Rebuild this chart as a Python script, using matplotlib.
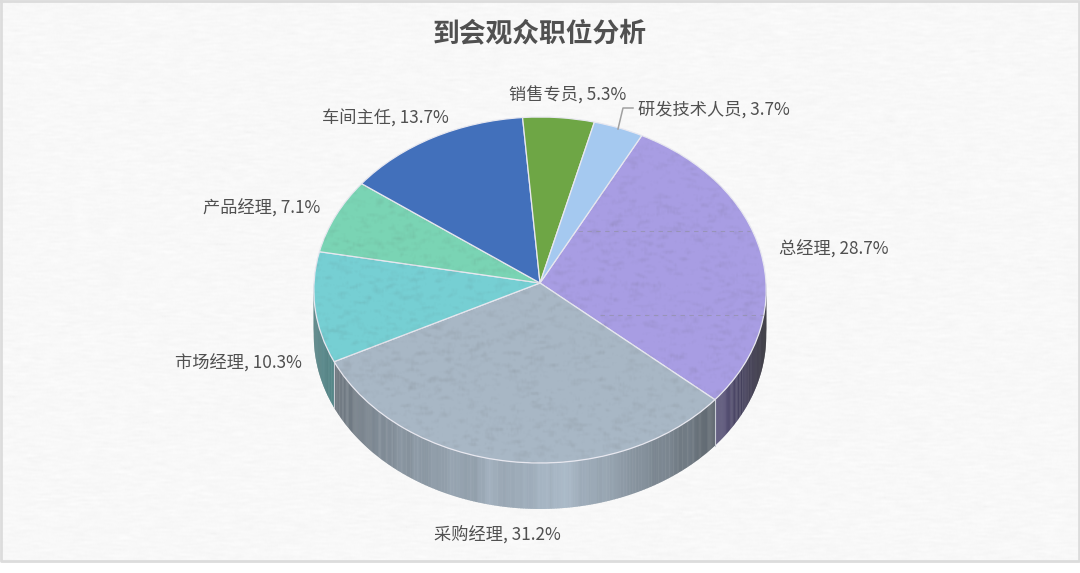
import numpy as np
import matplotlib
matplotlib.use('Agg')
import matplotlib.pyplot as plt
from matplotlib.transforms import Transform

plt.rcParams['font.family'] = ['Noto Sans CJK SC', 'DejaVu Sans']

title = '到会观众职位分析'
categories = ['总经理', '采购经理', '市场经理', '产品经理', '车间主任', '销售专员', '研发技术人员']
shares = [28.7, 31.2, 10.3, 7.1, 13.7, 5.3, 3.7]
colors = ['#a89de3', '#a8b7c5', '#76cfd3', '#7ad4b4', '#4270bb', '#6ea645', '#a5c9f0']
textured = [True, True, True, True, False, False, False]

# pie geometry in pixels, k gives the slight perspective of the tilted disc
cx, cy = 540, 283
rx, ry, k = 226, 172.7, 0.0405
depth = 46
start_clock = 27.8  # degrees clockwise from 12 o'clock


def project(x, y):
    den = 1 + k * y
    return cx + rx * x / den, cy - ry * y / den


class Tilt(Transform):
    input_dims = output_dims = 2

    def transform_non_affine(self, xy):
        xy = np.asarray(xy, dtype=float)
        return np.column_stack(project(xy[:, 0], xy[:, 1]))


def rim(theta):
    # theta in degrees clockwise from the top
    t = np.radians(theta)
    return project(np.sin(t), np.cos(t))


def texture(rng, h, w, blur=9, strength=1.0):
    n = rng.normal(size=(h, w))
    kernel = np.ones(blur) / blur
    n = np.apply_along_axis(lambda r: np.convolve(r, kernel, mode='same'), 1, n)
    n = np.apply_along_axis(lambda r: np.convolve(r, [.25, .5, .25], mode='same'), 0, n)
    return n / n.std() * strength


rng = np.random.default_rng(7)
fig = plt.figure(figsize=(10.8, 5.73), dpi=100, facecolor='white')
ax = fig.add_axes([0, 0, 1, 1])

# paper background
bg = 247.5 + texture(rng, 558, 1076, blur=11, strength=1.0)
bg = np.clip(bg, 0, 255) / 255

wedges, _ = ax.pie(shares, colors=colors, startangle=90 - start_clock, counterclock=False,
                   wedgeprops={'edgecolor': '#e8e8f0', 'linewidth': 0.9, 'zorder': 5})
ax.set_aspect('auto')
ax.axis('off')

ax.imshow(bg, cmap='gray', vmin=0, vmax=1, extent=(2, 1078, 560, 2), zorder=0, aspect='auto')
ax.plot([1, 1079, 1079, 1, 1], [1, 1, 561, 561, 1], color='#dcdcdc', lw=2, zorder=1)

tilt = Tilt() + ax.transData
for w in wedges:
    w.set_transform(tilt)

# side wall, shaded by angle
angle_pts = [90, 100, 130, 175, 215, 245, 275]
shade_pts = [0.10, 0.14, 0.55, 1.0, 0.82, 0.6, 0.5]
edges = start_clock + np.cumsum([0] + shares) * 3.6
streaks = np.convolve(rng.normal(0, 0.025, 700), np.ones(8) / 8 * 2.5, mode='same')
for i, (c, val) in enumerate(zip(colors, shares)):
    a0, a1 = edges[i], edges[i + 1]
    a0_v, a1_v = max(a0, 90), min(a1, 270)
    if a1_v <= a0_v:
        continue
    base = np.array(matplotlib.colors.to_rgb(c))
    steps = np.arange(a0_v, a1_v + 0.4, 0.4)
    for p, q in zip(steps[:-1], steps[1:]):
        f = np.interp((p + q) / 2, angle_pts, shade_pts) * (1 + streaks[int(p / 0.4) % 700])
        xa, ya = rim(np.array([p, q + 0.15]))
        ax.fill([xa[0], xa[1], xa[1], xa[0]], [ya[0], ya[1], ya[1] + depth, ya[0] + depth],
                color=np.clip(base * f, 0, 1), lw=0, zorder=3)
    # light seam between two side walls
    xs, ys = rim(np.array(a1_v))
    if a1_v < 270:
        ax.plot([xs, xs], [ys, ys + depth], color='#c8ccd4', lw=0.8, zorder=4)

# mottled texture on the lighter slices
tex = texture(rng, 240, 300, blur=5, strength=1.0)
rgba = np.zeros(tex.shape + (4,))
rgba[..., :3] = 0.3
rgba[..., 3] = np.clip(tex * 0.035, 0, 0.18)
for w, on in zip(wedges, textured):
    if on:
        im = ax.imshow(rgba, extent=(310, 770, 470, 110), zorder=6, aspect='auto',
                       interpolation='bilinear')
        im.set_clip_path(w)

# faint seams of the texture in the purple slice
for y, x0, x1 in [(231, 578, 750), (315, 600, 766)]:
    ln, = ax.plot([x0, x1], [y, y], color='#8f8f9f', lw=0.8, ls=(0, (4, 4)), alpha=0.6, zorder=6)
    ln.set_clip_path(wedges[0])

ax.set_xlim(0, 1080)
ax.set_ylim(573, 0)

label_pos = [(779, 249), (434, 534), (175, 363), (203, 208), (322, 119), (509, 95), (638, 110)]
for cat, val, (x, y) in zip(categories, shares, label_pos):
    ax.text(x, y, f'{cat}, {val}%', fontsize=12.4, color='#505050', va='center', ha='left', zorder=8)
ax.plot([618, 623, 633], [129, 108, 108], color='#a0a0a0', lw=1.1, zorder=7)

ax.text(540, 33, title, fontsize=19.3, fontweight='bold', color='#505050', ha='center', va='center', zorder=8)

fig.savefig('out.png', dpi=100)
